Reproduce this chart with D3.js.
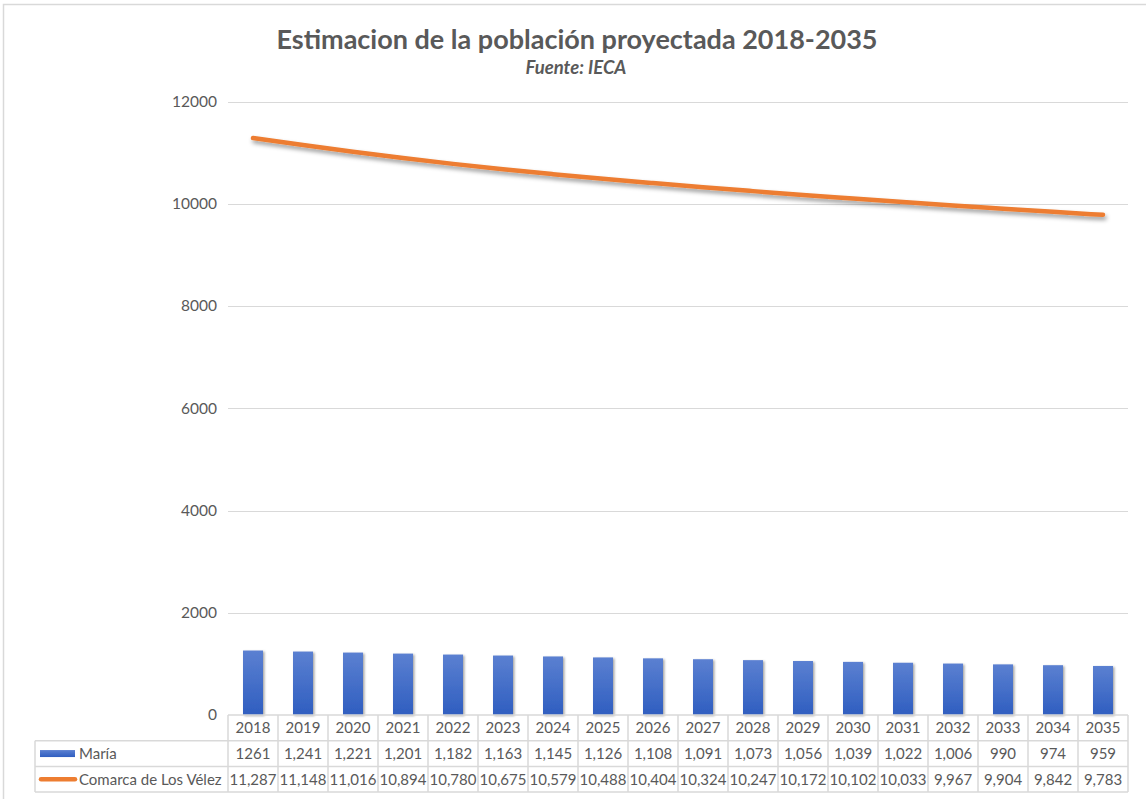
<!DOCTYPE html>
<html>
<head>
<meta charset="utf-8">
<script src="https://cdn.jsdelivr.net/npm/d3@7"></script>
<style>
  html, body { margin: 0; padding: 0; background: #fff; }
  svg { display: block; }
  text { font-family: Lato, "Open Sans", sans-serif; fill: #595959; }
</style>
</head>
<body>
<svg id="chart" width="1146" height="799"></svg>
<script>
// Population projection data (IECA)
const years = ["2018","2019","2020","2021","2022","2023","2024","2025","2026",
               "2027","2028","2029","2030","2031","2032","2033","2034","2035"];
const maria = [1261,1241,1221,1201,1182,1163,1145,1126,1108,
               1091,1073,1056,1039,1022,1006,990,974,959];
const comarca = [11287,11148,11016,10894,10780,10675,10579,10488,10404,
                 10324,10247,10172,10102,10033,9967,9904,9842,9783];
const mariaLabels = ["1261","1,241","1,221","1,201","1,182","1,163","1,145","1,126","1,108",
                     "1,091","1,073","1,056","1,039","1,022","1,006","990","974","959"];
const yTicks = [0, 2000, 4000, 6000, 8000, 10000, 12000];
const seriesNames = ["María", "Comarca de Los Vélez"];

const svg = d3.select("#chart");
const fmt = d3.format(",");

const plot = { left: 228, right: 1128, top: 101.5, bottom: 715 };
const rowH = 25.7;
const legendLeft = 35;

// chart frame
svg.append("rect")
  .attr("x", 3.5).attr("y", 4.5).attr("width", 1160).attr("height", 820)
  .attr("fill", "none").attr("stroke", "#d9d9d9").attr("stroke-width", 1.5);

const defs = svg.append("defs");
const grad = defs.append("linearGradient")
  .attr("id", "barGrad").attr("x1", 0).attr("y1", 0).attr("x2", 0).attr("y2", 1);
grad.append("stop").attr("offset", "0%").attr("stop-color", "#5b80d1");
grad.append("stop").attr("offset", "100%").attr("stop-color", "#2f5ec0");

const barShadow = defs.append("filter").attr("id", "barShadow")
  .attr("x", "-30%").attr("y", "-10%").attr("width", "160%").attr("height", "130%");
barShadow.append("feDropShadow").attr("dx", 1.5).attr("dy", 1).attr("stdDeviation", 1.3)
  .attr("flood-color", "#000").attr("flood-opacity", 0.35);

const lineShadow = defs.append("filter").attr("id", "lineShadow")
  .attr("x", "-5%").attr("y", "-50%").attr("width", "110%").attr("height", "200%");
lineShadow.append("feDropShadow").attr("dx", 1.5).attr("dy", 3).attr("stdDeviation", 2)
  .attr("flood-color", "#000").attr("flood-opacity", 0.4);

// scales
const x = d3.scaleBand().domain(years).range([plot.left, plot.right]).padding(0);
const y = d3.scaleLinear().domain([0, 12000]).range([plot.bottom, plot.top]);

// gridlines
svg.append("g").selectAll("line").data(yTicks.filter(d => d > 0)).join("line")
  .attr("x1", plot.left).attr("x2", plot.right)
  .attr("y1", d => Math.round(y(d)) + 0.5).attr("y2", d => Math.round(y(d)) + 0.5)
  .attr("stroke", "#d9d9d9").attr("stroke-width", 1);

// y axis labels
svg.append("g").selectAll("text").data(yTicks).join("text")
  .attr("x", 217).attr("y", d => y(d)).attr("dy", "0.35em")
  .attr("text-anchor", "end").attr("font-size", 15.5)
  .text(d => d);

// bars
const barW = 20;
svg.append("g").selectAll("rect").data(maria).join("rect")
  .attr("x", (d, i) => x(years[i]) + x.bandwidth() / 2 - barW / 2)
  .attr("y", d => y(d))
  .attr("width", barW)
  .attr("height", d => y(0) - y(d))
  .attr("fill", "url(#barGrad)")
  .attr("filter", "url(#barShadow)");

// line
const line = d3.line()
  .x((d, i) => x(years[i]) + x.bandwidth() / 2)
  .y(d => y(d))
  .curve(d3.curveMonotoneX);
svg.append("path").datum(comarca)
  .attr("d", line)
  .attr("fill", "none").attr("stroke", "#ed7d31").attr("stroke-width", 4.5)
  .attr("stroke-linecap", "round").attr("stroke-linejoin", "round")
  .attr("filter", "url(#lineShadow)");

// data table
const table = svg.append("g");
const gridColor = "#d9d9d9";
const r0 = plot.bottom, r1 = r0 + rowH, r2 = r1 + rowH, r3 = r2 + rowH;

// horizontal rules
[[plot.left, plot.right, r0], [legendLeft, plot.right, r1],
 [legendLeft, plot.right, r2], [legendLeft, plot.right, r3]].forEach(([a, b, yy]) => {
  table.append("line").attr("x1", a).attr("x2", b).attr("y1", yy).attr("y2", yy)
    .attr("stroke", gridColor).attr("stroke-width", 1.5);
});
// vertical rules
const colEdges = years.map(yr => x(yr)).concat([plot.right]);
table.selectAll("line.v").data(colEdges).join("line").attr("class", "v")
  .attr("x1", d => d).attr("x2", d => d)
  .attr("y1", r0).attr("y2", r3)
  .attr("stroke", gridColor).attr("stroke-width", 1.5);
table.append("line").attr("x1", legendLeft).attr("x2", legendLeft)
  .attr("y1", r1).attr("y2", r3).attr("stroke", gridColor).attr("stroke-width", 1.5);

const cellFont = 15;
// header row
table.selectAll("text.yr").data(years).join("text").attr("class", "yr")
  .attr("x", d => x(d) + x.bandwidth() / 2).attr("y", (r0 + r1) / 2).attr("dy", "0.35em")
  .attr("text-anchor", "middle").attr("font-size", cellFont).text(d => d);
// María row
table.selectAll("text.m").data(mariaLabels).join("text").attr("class", "m")
  .attr("x", (d, i) => x(years[i]) + x.bandwidth() / 2).attr("y", (r1 + r2) / 2).attr("dy", "0.35em")
  .attr("text-anchor", "middle").attr("font-size", cellFont).text(d => d);
// Comarca row
table.selectAll("text.c").data(comarca).join("text").attr("class", "c")
  .attr("x", (d, i) => x(years[i]) + x.bandwidth() / 2).attr("y", (r2 + r3) / 2).attr("dy", "0.35em")
  .attr("text-anchor", "middle").attr("font-size", cellFont).text(d => fmt(d));

// legend keys
table.append("rect").attr("x", 40).attr("y", (r1 + r2) / 2 - 3.5).attr("width", 35).attr("height", 7)
  .attr("fill", "url(#barGrad)");
table.append("line").attr("x1", 41).attr("x2", 75)
  .attr("y1", (r2 + r3) / 2).attr("y2", (r2 + r3) / 2)
  .attr("stroke", "#ed7d31").attr("stroke-width", 4.5).attr("stroke-linecap", "round");
table.append("text").attr("x", 79).attr("y", (r1 + r2) / 2).attr("dy", "0.35em")
  .attr("font-size", cellFont).text(seriesNames[0]);
table.append("text").attr("x", 79).attr("y", (r2 + r3) / 2).attr("dy", "0.35em")
  .attr("font-size", cellFont).text(seriesNames[1]);

// titles
svg.append("text").attr("x", 577).attr("y", 49)
  .attr("text-anchor", "middle").attr("font-size", 27).attr("font-weight", "bold")
  .text("Estimacion de la población proyectada 2018-2035");
svg.append("text").attr("x", 576).attr("y", 74)
  .attr("text-anchor", "middle").attr("font-size", 18.5).attr("font-weight", "bold")
  .attr("font-style", "italic")
  .text("Fuente: IECA");
</script>
</body>
</html>
